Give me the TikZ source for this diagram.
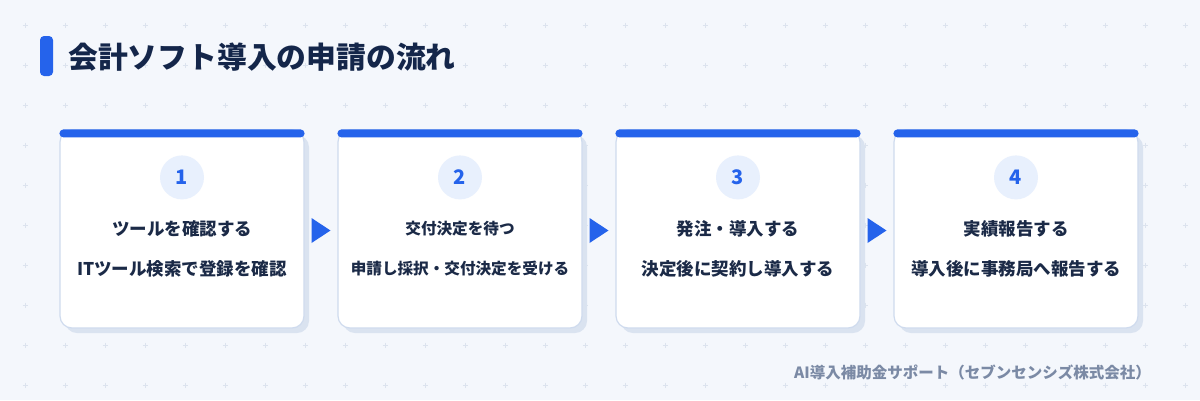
\documentclass[tikz,border=0pt]{standalone}
\usepackage{fontspec}
\setmainfont{Noto Sans CJK JP}
\usetikzlibrary{calc,shadows}
\definecolor{bgc}{HTML}{F4F7FC}
\definecolor{gridc}{HTML}{DCE3EE}
\definecolor{bluec}{HTML}{2563EB}
\definecolor{navyc}{HTML}{14264A}
\definecolor{textc}{HTML}{1B2A47}
\definecolor{cardline}{HTML}{CFDBEE}
\definecolor{shadowc}{HTML}{DAE3F0}
\definecolor{circc}{HTML}{E8F0FD}
\definecolor{footc}{HTML}{7B8AA5}
\begin{document}
\begin{tikzpicture}[x=1pt,y=-1pt,
  card/.style={draw=cardline, line width=1.2pt, fill=white, rounded corners=12pt,
    minimum width=244pt, minimum height=198pt, inner sep=0pt,
    drop shadow={shadow xshift=5pt, shadow yshift=-5pt, fill=shadowc, opacity=1}},
  numcirc/.style={circle, fill=circc, minimum size=44pt, inner sep=0pt,
    text=bluec, font=\fontsize{20}{24}\selectfont\bfseries},
  steptext/.style={text=textc, inner sep=0pt, font=\fontsize{17.5}{21}\selectfont\bfseries},
  steptextsm/.style={text=textc, inner sep=0pt, font=\fontsize{15.6}{19}\selectfont\bfseries},
  topbar/.style={fill=bluec, rounded corners=4pt},
  arrowtri/.style={fill=bluec}
]
\useasboundingbox (0,0) rectangle (1200,400);
\fill[bgc] (0,0) rectangle (1200,400);
% grid of plus marks
\foreach \i in {0,...,29}{
  \foreach \j in {0,...,9}{
    \draw[gridc, line width=0.8pt] (25+40*\i-2.5,25+40*\j) -- ++(5,0)
      (25+40*\i,25+40*\j-2.5) -- ++(0,5);
  }
}
% title
\fill[bluec, rounded corners=4pt] (40,36) rectangle (53,76);
\node[anchor=west, inner sep=0pt, text=navyc, font=\fontsize{29.8}{34}\selectfont\bfseries] (title) at (68,57) {会計ソフト導入の申請の流れ};
% cards
\node[card] (c1) at (182,229) {};
\node[card] (c2) at (460,229) {};
\node[card] (c3) at (738,229) {};
\node[card] (c4) at (1016,229) {};
\foreach \c in {c1,c2,c3,c4}{
  \fill[topbar] (\c.north west) rectangle ($(\c.north east)+(0,8)$);
}
\node[numcirc] (n1) at ($(c1.north)+(0,48)$) {1};
\node[numcirc] (n2) at ($(c2.north)+(0,48)$) {2};
\node[numcirc] (n3) at ($(c3.north)+(0,48)$) {3};
\node[numcirc] (n4) at ($(c4.north)+(0,48)$) {4};
\node[steptext] (t1a) at ($(c1.north)+(0,99)$) {ツールを確認する};
\node[steptext] (t1b) at ($(c1.north)+(0,139)$) {ITツール検索で登録を確認};
\node[steptextsm] (t2a) at ($(c2.north)+(0,99)$) {交付決定を待つ};
\node[steptextsm] (t2b) at ($(c2.north)+(0,139)$) {申請し採択・交付決定を受ける};
\node[steptext] (t3a) at ($(c3.north)+(0,99)$) {発注・導入する};
\node[steptext] (t3b) at ($(c3.north)+(0,139)$) {決定後に契約し導入する};
\node[steptext] (t4a) at ($(c4.north)+(0,99)$) {実績報告する};
\node[steptext] (t4b) at ($(c4.north)+(0,139)$) {導入後に事務局へ報告する};
% arrows between cards
\foreach \a/\b in {c1/c2,c2/c3,c3/c4}{
  \coordinate (m) at ($(\a.east)!0.5!(\b.west)+(0,1.5)$);
  \fill[arrowtri] ($(m)+(-9.5,-12.5)$) -- ($(m)+(9.5,0)$) -- ($(m)+(-9.5,12.5)$) -- cycle;
}
% footer
\node[anchor=east, inner sep=0pt, text=footc, font=\fontsize{15.5}{19}\selectfont\bfseries] (foot) at (1151,372) {AI導入補助金サポート（セブンセンシズ株式会社）};
\end{tikzpicture}
\end{document}
